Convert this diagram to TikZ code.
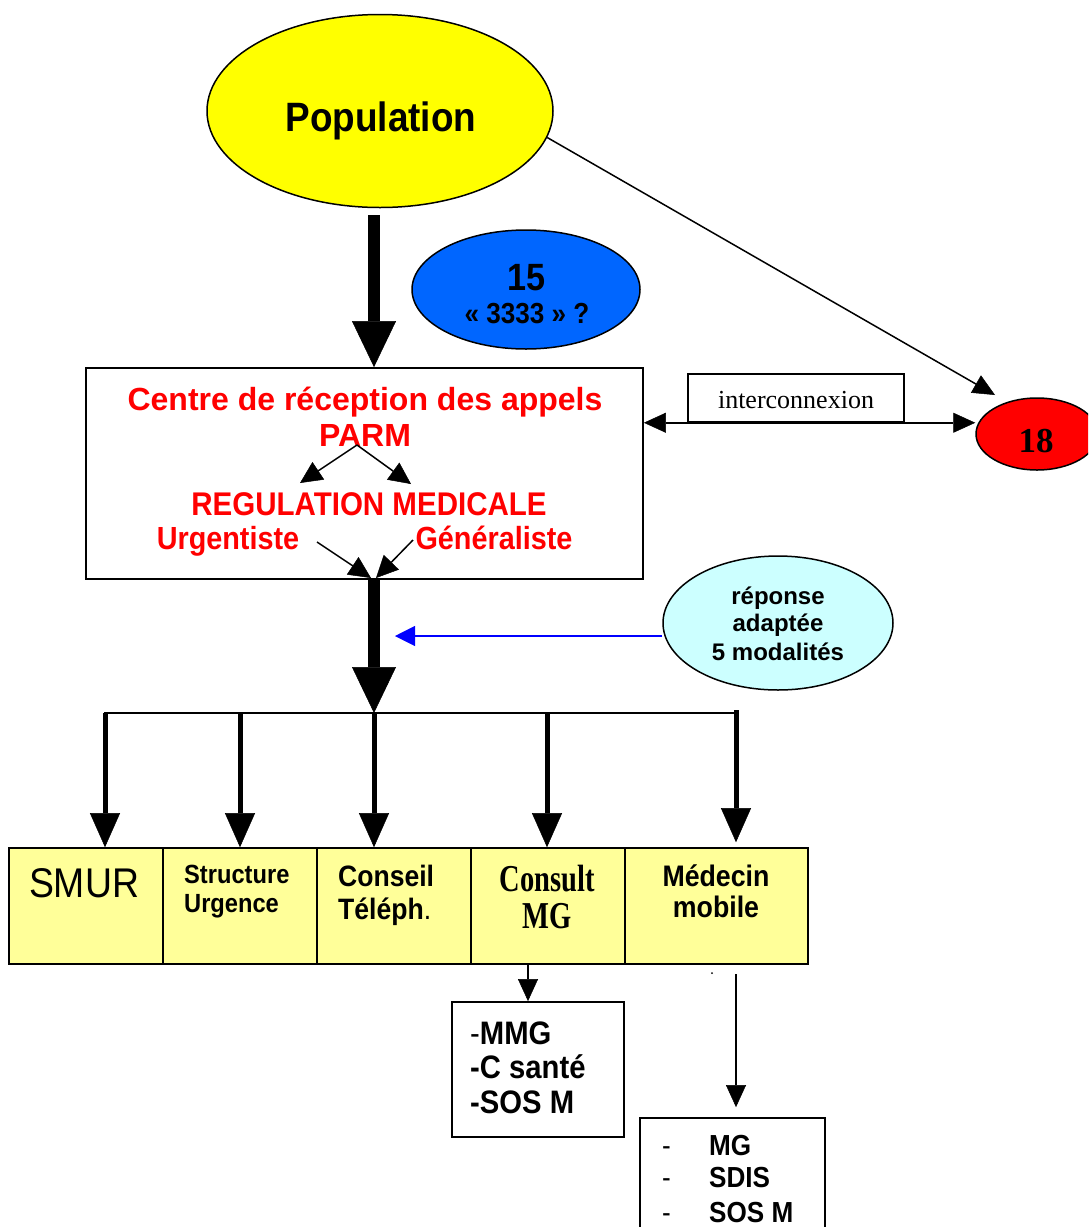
\documentclass[tikz,border=0pt]{standalone}
\usepackage{fontspec}
\usetikzlibrary{shapes.geometric,arrows.meta,calc}
\newfontfamily\sfn{Liberation Sans}[FakeStretch=0.9]
\newfontfamily\sfw{Liberation Sans}
\newfontfamily\srf{Liberation Serif}
\newfontfamily\srfc{Liberation Serif}[FakeStretch=0.75]
\newcommand{\fsz}[1]{\fontsize{#1}{#1}\selectfont}
\definecolor{popyellow}{RGB}{255,255,0}
\definecolor{blueXV}{RGB}{0,102,255}
\definecolor{cyanrep}{RGB}{204,255,255}
\definecolor{boxyellow}{RGB}{255,255,153}
\definecolor{redtxt}{RGB}{255,0,0}
\begin{document}
\begin{tikzpicture}[x=1pt,y=-1pt,
  ell/.style={ellipse,draw=black,line width=1.5pt,inner sep=0},
  rbox/.style={rectangle,draw=black,line width=1.8pt,inner sep=0},
  ybox/.style={rectangle,draw=black,line width=1.6pt,fill=boxyellow,inner sep=0,minimum height=116pt},
  tx/.style={inner sep=0,anchor=base},
  txl/.style={inner sep=0,anchor=base west},
  redt/.style={tx,text=redtxt,font=\sfn\bfseries\fsz{32}},
  redw/.style={tx,text=redtxt,font=\sfw\bfseries\fsz{32}},
  bigarrow/.style={line width=12pt,-{Triangle[width=44pt,length=46pt,line width=0.5pt]}},
  brancharrow/.style={line width=5pt,-{Triangle[width=30pt,length=34pt,line width=0.5pt]}},
  thinarrow/.style={line width=1.5pt,-{Triangle[width=20pt,length=22pt,line width=0.5pt]}},
  smallarrow/.style={line width=1.5pt,-{Triangle[width=21pt,length=22pt,line width=0.5pt]}},
]
\clip (0,0) rectangle (1088,1227);
\fill[white] (0,0) rectangle (1088,1227);

% Population
\node[ell,fill=popyellow,minimum width=346pt,minimum height=193pt] (pop) at (380,111) {};
\node[tx,font=\sfn\bfseries\fsz{41}] (popt) at (381,131) {Population};

% 15
\node[ell,fill=blueXV,minimum width=228pt,minimum height=119pt] (n15) at (526,289.5) {};
\node[tx,font=\sfn\bfseries\fsz{38}] (n15a) at (527,290) {15};
\node[tx,font=\sfn\bfseries\fsz{29}] (n15b) at (527,323) {« 3333 » ?};

% Centre box
\node[rbox,minimum width=557pt,minimum height=211pt] (cbox) at (364.5,473.5) {};
\node[redw] (c1) at (365,410) {Centre de réception des appels};
\node[redw] (c2) at (365,446) {PARM};
\node[redt,font=\sfn\bfseries\fsz{32.8}] (c3) at (369,515) {REGULATION MEDICALE};
\node[redt] (c4) at (228,549) {Urgentiste};
\node[redt] (c5) at (494,549) {Généraliste};
\coordinate (pv) at (357,445);
\coordinate (pl) at (300,483);
\coordinate (pr) at (411,484);
\coordinate (ua) at (317,542);
\coordinate (ga) at (413,540);
\coordinate (mtl) at (371,578);
\coordinate (mtr) at (376,578);
\draw[smallarrow] (pv) -- (pl);
\draw[smallarrow] (pv) -- (pr);
\draw[smallarrow] (ua) -- (mtl);
\draw[smallarrow] (ga) -- (mtr);

% thick arrows
\draw[bigarrow] ($(pop.south)+(-6,7)$) -- (374,0 |- cbox.north);
\coordinate (barL) at (104,713);
\coordinate (barR) at (738,713);
\coordinate (barM) at (374,713);
\draw[bigarrow] (374,0 |- cbox.south) -- (barM);
\draw[line width=2pt] (barL) -- (barR);

% 18 and interconnexion
\node[ell,fill=red,minimum width=122pt,minimum height=72pt] (n18) at (1037,434) {};
\node[tx,font=\srf\bfseries\fsz{35}] (n18t) at (1036,452) {18};
\node[rbox,line width=1.5pt,minimum width=216pt,minimum height=48pt] (ic) at (796,398) {};
\node[tx,font=\srf\fsz{26}] (ict) at (796,408) {interconnexion};
\draw[line width=1.5pt,{Triangle[width=20pt,length=22pt,line width=0.5pt]}-{Triangle[width=20pt,length=22pt,line width=0.5pt]}]
  (cbox.east |- ic.south) -- (n18.west |- ic.south);
\coordinate (t18) at (995,395);
\draw[thinarrow] (pop.-9) -- (t18);

% reponse adaptee
\node[ell,fill=cyanrep,minimum width=230pt,minimum height=134pt] (rep) at (778,623) {};
\node[tx,font=\sfw\bfseries\fsz{24}] (r1) at (778,604) {réponse};
\node[tx,font=\sfw\bfseries\fsz{24}] (r2) at (778,631) {adaptée};
\node[tx,font=\sfw\bfseries\fsz{24}] (r3) at (778,660) {5 modalités};
\coordinate (bt) at (395,636);
\draw[line width=1.5pt,blue,-{Triangle[width=20pt,length=20pt,line width=0.5pt]}] (rep.west |- bt) -- (bt);

% yellow boxes
\node[ybox,minimum width=154pt] (b1) at (86,906) {};
\node[ybox,minimum width=154pt] (b2) at (240,906) {};
\node[ybox,minimum width=154pt] (b3) at (394,906) {};
\node[ybox,minimum width=154pt] (b4) at (548,906) {};
\node[ybox,minimum width=183pt] (b5) at (716.5,906) {};

\foreach \xx/\bb in {105/b1,240/b2,374/b3,547/b4}
  \draw[brancharrow] (\xx,0 |- barL) -- (\xx,0 |- \bb.north);
\draw[brancharrow] ($(736,0 |- barR)+(0,-3)$) -- ($(736,0 |- b5.north)+(0,-5)$);

\node[tx,font=\sfn\fsz{41.5}] (s1) at (84,897) {SMUR};
\node[txl,font=\sfn\bfseries\fsz{26.3}] (s2a) at (184,883) {Structure};
\node[txl,font=\sfn\bfseries\fsz{26.3}] (s2b) at (184,912) {Urgence};
\node[txl,font=\sfn\bfseries\fsz{29.5}] (s3a) at (338,886) {Conseil};
\node[txl,font=\sfn\bfseries\fsz{29.5}] (s3b) at (338,919) {Téléph\textmd{.}};
\node[tx,font=\srfc\bfseries\fsz{38}] (s4a) at (547,891) {Consult};
\node[tx,font=\srfc\bfseries\fsz{38}] (s4b) at (547,928) {MG};
\node[tx,font=\sfn\bfseries\fsz{29.7}] (s5a) at (716,886) {Médecin};
\node[tx,font=\sfn\bfseries\fsz{29.7}] (s5b) at (716,917) {mobile};

% MMG box
\node[rbox,minimum width=172pt,minimum height=135pt] (mmg) at (538,1069.5) {};
\draw[thinarrow] (528,0 |- b4.south) -- (528,0 |- mmg.north);
\node[txl,font=\sfn\fsz{32.5}] (m1) at (470,1044) {-\textbf{MMG}};
\node[txl,font=\sfn\bfseries\fsz{32.5}] (m2) at (470,1078) {-C santé};
\node[txl,font=\sfn\bfseries\fsz{32.5}] (m3) at (470,1113) {-SOS M};

% mobile box
\node[rbox,minimum width=185pt,minimum height=130pt] (mob) at (732.5,1183) {};
\coordinate (ms) at (736,974);
\draw[thinarrow,shorten >=10pt] (ms) -- (736,0 |- mob.north);
\fill (712,973) circle (1pt);
\node[txl,font=\sfn\fsz{29}] (d1) at (662,1155) {-};
\node[txl,font=\sfn\fsz{29}] (d2) at (662,1187) {-};
\node[txl,font=\sfn\fsz{29}] (d3) at (662,1222) {-};
\node[txl,font=\sfn\bfseries\fsz{29}] (e1) at (709,1155) {MG};
\node[txl,font=\sfn\bfseries\fsz{29}] (e2) at (709,1187) {SDIS};
\node[txl,font=\sfn\bfseries\fsz{29}] (e3) at (709,1222) {SOS M};
\end{tikzpicture}
\end{document}
